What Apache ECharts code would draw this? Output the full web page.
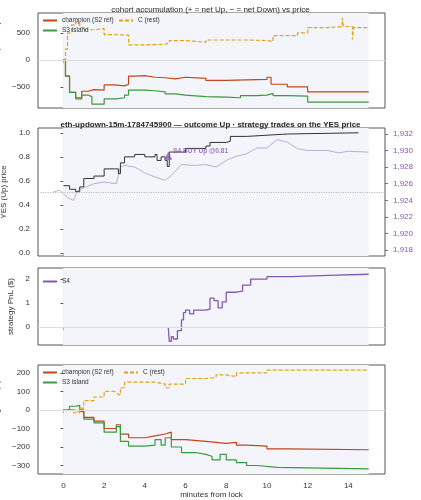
<!DOCTYPE html><html><head><meta charset="utf-8"><script src="https://cdn.jsdelivr.net/npm/echarts@6/dist/echarts.min.js"></script>
<style>html,body{margin:0;background:#fff}#c{width:421px;height:500px}</style></head><body><div id="c"></div><script>
// Panel 1: accumulation (shares)
const accChampX=[0,0.1,0.3,0.6,0.9,1.2,1.5,2.0,2.5,3.0,3.2,3.5,4.0,4.5,5.0,5.5,6.0,7.0,8.0,9.0,10.0,10.2,11.0,12.0,15];
const accChampY=[0,-300,-600,-700,-580,-550,-560,-460,-480,-450,-300,-290,-320,-330,-350,-320,-340,-380,-370,-360,-320,-450,-500,-590,-590];
const accS3X=[0,0.1,0.3,0.6,0.9,1.2,1.4,1.9,2.0,2.6,3.0,3.2,4.0,4.5,5.0,5.5,6.0,7.0,8.0,8.7,9.5,10.0,10.3,11.0,12.0,15];
const accS3Y=[0,-300,-600,-720,-650,-680,-820,-820,-720,-700,-650,-560,-570,-590,-630,-650,-680,-690,-700,-660,-650,-620,-660,-670,-780,-780];
const accCX=[0,0.1,0.2,0.4,0.6,0.8,1.0,1.5,2.0,2.5,3.2,4.0,5.0,5.2,6.0,7.0,8.0,9.0,10.0,10.3,11.0,11.5,12.0,13.0,13.7,13.75,14.2,14.25,15];
const accCY=[0,200,500,650,700,600,560,580,470,460,280,290,320,360,330,370,370,360,340,450,450,500,600,620,780,620,380,600,590];
// Panel 2: YES price and ETH
const yesX=[0,0.3,0.6,0.8,1.0,1.5,2.0,2.5,2.7,2.8,3.0,3.5,4.0,4.5,4.6,4.8,5.0,5.1,5.2,6.0,7.0,7.2,8.0,8.2,9.0,10.0,11.0,14.5];
const yesY=[0.56,0.53,0.51,0.55,0.62,0.64,0.70,0.70,0.66,0.75,0.80,0.82,0.80,0.82,0.77,0.80,0.77,0.72,0.84,0.87,0.89,0.92,0.93,0.97,0.98,0.99,1.0,1.0];
const ethX=[-0.5,-0.2,0,0.2,0.5,0.7,1.0,1.5,2.0,2.6,2.8,3.0,3.5,4.0,4.5,5.0,5.3,5.8,6.5,7.0,7.5,8.0,8.5,9.0,9.5,10.0,10.5,11.0,11.5,12.0,13.0,13.5,14.0,15];
const ethY=[1925,1925.2,1924.8,1924.3,1924,1925.2,1925.5,1926,1926.2,1926,1928,1928.2,1928,1927.3,1926.8,1926.4,1927,1928.3,1928.2,1928.3,1928,1928.8,1929.3,1929.6,1930.3,1930.3,1931.3,1931,1930.2,1930,1930,1929.7,1929.9,1929.8];
const tradeX=[5.15], tradeY=[0.81], tradeLabel=['S4 BUY Up @0.81'];
const strike=1925;
// Panel 3: strategy PnL
const s4X=[5.15,5.2,5.3,5.4,5.6,5.8,5.9,6.0,6.2,6.4,7.0,7.2,7.4,7.6,7.8,8.0,8.5,8.8,9.2,10.0,11.2,13,15];
const s4Y=[0,-0.6,-0.4,-0.5,-0.15,0.3,0.6,0.7,0.55,0.7,0.75,1.2,1.1,0.8,1.05,1.45,1.5,1.75,2.0,2.1,2.15,2.2,2.2];
// Panel 4: cohort moving PnL
const pnlChampX=[0,0.5,1.0,1.5,2.0,2.6,2.8,3.2,4.0,4.5,5.0,5.3,6.0,7.0,7.5,8.0,8.5,9.0,10.0,11.0,15];
const pnlChampY=[0,-10,-40,-60,-100,-80,-130,-150,-140,-130,-120,-160,-170,-175,-180,-175,-190,-195,-210,-215,-215];
const pnlS3X=[0,0.3,0.6,0.8,1.0,1.5,2.0,2.6,2.8,3.2,4.0,4.5,4.8,5.0,5.3,5.8,6.5,7.0,7.3,7.7,8.0,8.5,9.0,9.5,10.5,15];
const pnlS3Y=[0,20,25,0,-50,-70,-120,-90,-170,-195,-190,-160,-190,-150,-200,-230,-240,-250,-270,-240,-270,-285,-300,-310,-318,-320];
const pnlCX=[0,0.5,0.8,1.0,1.5,2.0,2.5,2.6,2.8,3.0,4.0,4.5,5.0,5.2,6.0,7.0,7.5,8.0,8.5,9.0,10.0,15];
const pnlCY=[0,-15,10,50,70,100,90,80,120,150,150,140,120,140,170,175,190,180,200,200,215,215];
const xTicks=[0,2,4,6,8,10,12,14];

const zip=(a,b)=>a.map((v,i)=>[v,b[i]]);
const RED='#c1461f',GRN='#3a9a3f',ORG='#e3a21a',PUR='#8659b0',LPUR='#b6a3d6';
const fs=8, tc='#333';
const mf=v=>String(v).replace('-','−');
const grids=[{top:13,height:95},{top:128,height:128},{top:268,height:77},{top:365,height:109}]
 .map(g=>({left:38,right:36,top:g.top,height:g.height,show:true,borderColor:'#555',borderWidth:1,backgroundColor:'#fff',containLabel:false,outerBoundsMode:'none'}));
const xAxes=grids.map((g,i)=>({type:'value',gridIndex:i,min:-1.25,max:15.8,
 axisLine:{show:false},axisTick:{show:true,customValues:xTicks,length:3,lineStyle:{color:'#555'}},
 axisLabel:{show:i===3,customValues:xTicks,fontSize:fs,color:tc},
 splitLine:{show:true,lineStyle:{color:'#ececec'}},
 name:i===3?'minutes from lock':'',nameLocation:'middle',nameGap:16,nameTextStyle:{fontSize:fs,color:tc}}));
function ya(i,min,max,ticks,name,fmt,gap){return {type:'value',gridIndex:i,min,max,
 axisLine:{show:false},axisTick:{show:true,length:3,customValues:ticks},axisLabel:{fontSize:fs,color:tc,customValues:ticks,formatter:fmt||mf},
 splitLine:{show:false},name,nameLocation:'middle',nameGap:gap||28,nameTextStyle:{fontSize:fs,color:tc}};}
const yAxes=[
 ya(0,-890,870,[-500,0,500],'acc. net YES (shares)'),
 ya(1,-0.025,1.04,[0,0.2,0.4,0.6,0.8,1.0],'YES (Up) price',v=>v.toFixed(1),22),
 {type:'value',gridIndex:1,position:'right',min:1917.3,max:1932.7,axisLine:{show:false},axisTick:{show:true,length:3,customValues:[1918,1920,1922,1924,1926,1928,1930,1932],lineStyle:{color:PUR}},
  axisLabel:{fontSize:fs,color:PUR,customValues:[1918,1920,1922,1924,1926,1928,1930,1932]},splitLine:{show:false},
  name:'ETH/USD (strike dotted = YES 0.5)',nameLocation:'middle',nameGap:28,nameRotate:-90,nameTextStyle:{fontSize:7,color:PUR}},
 ya(2,-0.75,2.46,[0,1,2],'strategy PnL ($)',null,18),
 ya(3,-346,243,[-300,-200,-100,0,100,200],'cohort moving PnL ($)')
];
function ln(name,xi,yi,xs,ys,color,dashed,w){return {type:'line',name,xAxisIndex:xi,yAxisIndex:yi,data:zip(xs,ys),step:'end',showSymbol:false,symbol:'none',
 lineStyle:{color,width:w||1.2,type:dashed?[4,2]:'solid'},itemStyle:{color},z:3};}
const zl={silent:true,symbol:'none',label:{show:false},lineStyle:{color:'#ddd',type:'solid',width:1},data:[{yAxis:0}]};
function bg(xi,yi,zero){return {type:'line',xAxisIndex:xi,yAxisIndex:yi,data:[],silent:true,
 markArea:{silent:true,itemStyle:{color:'#f3f5fb'},data:[[{xAxis:0},{xAxis:15}]]},markLine:zero?zl:undefined};}
const series=[
 bg(0,0,true),bg(1,1,false),bg(2,3,true),bg(3,4,true),
 ln('champion (S2 ref)',0,0,accChampX,accChampY,RED),
 ln('S3 island',0,0,accS3X,accS3Y,GRN),
 ln('C (rest)',0,0,accCX,accCY,ORG,true),
 Object.assign(ln('ETH',1,2,ethX,ethY,LPUR,false,0.9),{step:false,markLine:{silent:true,symbol:'none',label:{show:false},lineStyle:{color:'#bbb',type:'dotted',width:1.2},data:[{yAxis:strike}]}}),
 ln('YES',1,1,yesX,yesY,'#333',false,1),
 {type:'scatter',xAxisIndex:1,yAxisIndex:1,data:zip(tradeX,tradeY),symbol:'triangle',symbolSize:8,itemStyle:{color:PUR},z:5,
  label:{show:true,position:'right',distance:1,offset:[0,-4],formatter:p=>tradeLabel[p.dataIndex],fontSize:6.5,fontWeight:'bold',color:PUR}},
 ln('S4',2,3,s4X,s4Y,PUR,false,1.3),
 ln('champion (S2 ref)',3,4,pnlChampX,pnlChampY,RED),
 ln('S3 island',3,4,pnlS3X,pnlS3Y,GRN),
 ln('C (rest)',3,4,pnlCX,pnlCY,ORG,true)
];
function lg(name,left,top){return {data:[name],left,top,itemWidth:14,itemHeight:6,itemGap:4,padding:0,selectedMode:false,
 itemStyle:{opacity:0},textStyle:{fontSize:6.5,color:tc}};}
const opt={animation:false,
 title:[{text:'cohort accumulation (+ = net Up, − = net Down) vs price',left:'center',top:1,textStyle:{fontSize:8,fontWeight:'normal',color:'#222'}},
  {text:'eth-updown-15m-1784745900 — outcome Up · strategy trades on the YES price',left:'center',top:116,textStyle:{fontSize:8,fontWeight:'bold',color:'#222'}}],
 grid:grids,xAxis:xAxes,yAxis:yAxes,series,
 legend:[lg('champion (S2 ref)',42,17),lg('C (rest)',118,17),lg('S3 island',42,27),lg('S4',42,278),
  lg('champion (S2 ref)',42,369),lg('C (rest)',123,369),lg('S3 island',42,379)]};
echarts.init(document.getElementById('c')).setOption(opt);
</script></body></html>
